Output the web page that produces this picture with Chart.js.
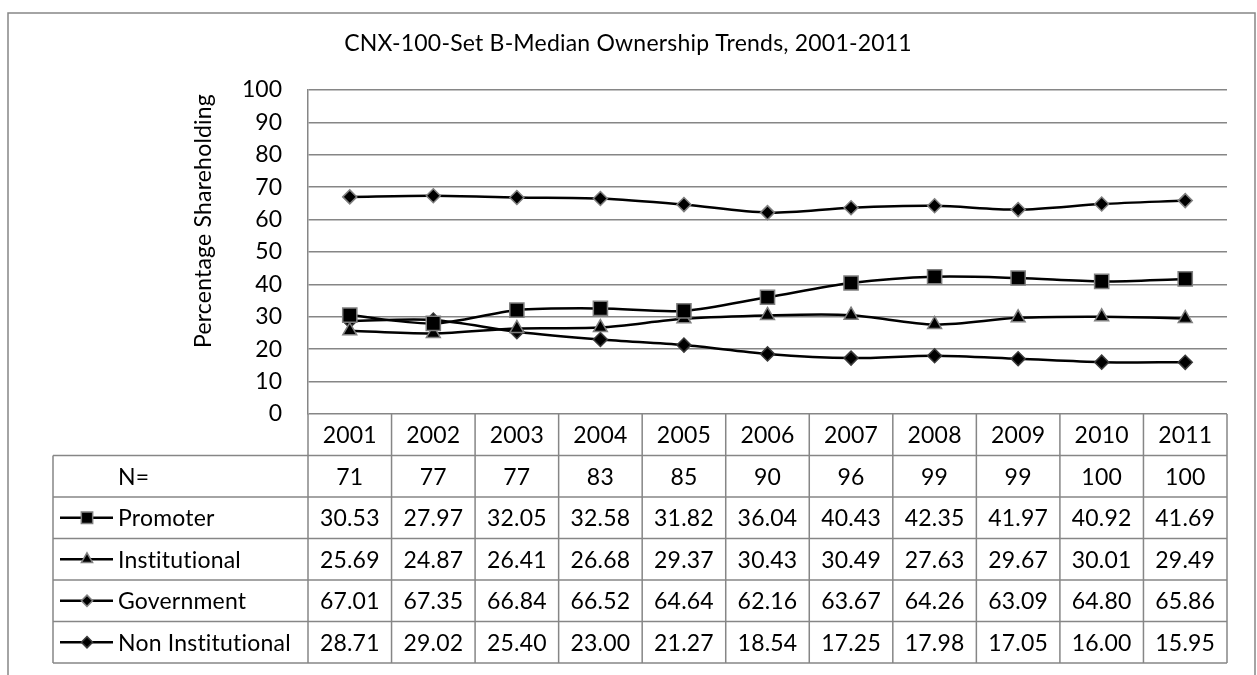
<!DOCTYPE html>
<html>
<head>
<meta charset="utf-8">
<script src="https://cdn.jsdelivr.net/npm/chart.js@4.4.1/dist/chart.umd.min.js"></script>
<style>
	html, body { margin: 0; padding: 0; background: #fff; }
	#wrap { width: 1257px; height: 675px; }
</style>
</head>
<body>
<div id="wrap"><canvas id="ownChart" width="1257" height="675"></canvas></div>
<script>
const years = ['2001', '2002', '2003', '2004', '2005', '2006', '2007', '2008', '2009', '2010', '2011'];
const counts = [71, 77, 77, 83, 85, 90, 96, 99, 99, 100, 100];
const promoter = [30.53, 27.97, 32.05, 32.58, 31.82, 36.04, 40.43, 42.35, 41.97, 40.92, 41.69];
const institutional = [25.69, 24.87, 26.41, 26.68, 29.37, 30.43, 30.49, 27.63, 29.67, 30.01, 29.49];
const government = [67.01, 67.35, 66.84, 66.52, 64.64, 62.16, 63.67, 64.26, 63.09, 64.80, 65.86];
const nonInstitutional = [28.71, 29.02, 25.40, 23.00, 21.27, 18.54, 17.25, 17.98, 17.05, 16.00, 15.95];
const yTicks = [0, 10, 20, 30, 40, 50, 60, 70, 80, 90, 100];

const FONT = 'Lato';
const GRID = '#868686';

function series(label, data, style, radius, border) {
	return {
		label: label,
		data: data,
		borderColor: '#000',
		backgroundColor: '#000',
		borderWidth: 2.5,
		tension: 0.3,
		pointStyle: style,
		pointRadius: radius,
		pointHoverRadius: radius,
		pointBackgroundColor: '#000',
		pointBorderColor: border,
		pointBorderWidth: 1.5,
	};
}

function drawMarker(ctx, style, cx, cy, r) {
	ctx.beginPath();
	if (style === 'rect') {
		const s = r * Math.SQRT1_2;
		ctx.rect(cx - s, cy - s, 2 * s, 2 * s);
	} else if (style === 'triangle') {
		ctx.moveTo(cx, cy - r);
		ctx.lineTo(cx + r * 0.866, cy + r * 0.5);
		ctx.lineTo(cx - r * 0.866, cy + r * 0.5);
		ctx.closePath();
	} else {
		ctx.moveTo(cx, cy - r);
		ctx.lineTo(cx + r, cy);
		ctx.lineTo(cx, cy + r);
		ctx.lineTo(cx - r, cy);
		ctx.closePath();
	}
	ctx.fill();
	ctx.stroke();
}

const tablePlugin = {
	id: 'dataTable',
	afterDraw(chart) {
		const ctx = chart.ctx;
		const area = chart.chartArea;
		const x = chart.scales.x;
		const half = (x.getPixelForValue(1) - x.getPixelForValue(0)) / 2;
		const rowH = 41.5;
		const tableLeft = 53;
		const top = area.bottom;

		ctx.save();
		ctx.letterSpacing = '0.2px';
		// outer frame
		ctx.strokeStyle = GRID;
		ctx.lineWidth = 1.5;
		ctx.strokeRect(8, 13, 1247, 700);

		// title
		ctx.fillStyle = '#000';
		ctx.font = '23px ' + FONT;
		ctx.textAlign = 'center';
		ctx.textBaseline = 'middle';
		ctx.fillText('CNX-100-Set B-Median Ownership Trends, 2001-2011', 628, 44);

		// y axis title
		ctx.save();
		ctx.translate(204, 221);
		ctx.rotate(-Math.PI / 2);
		ctx.fillText('Percentage Shareholding', 0, 0);
		ctx.restore();

		// table lines
		ctx.strokeStyle = GRID;
		ctx.lineWidth = 1.5;
		ctx.beginPath();
		for (let r = 1; r <= 6; r++) {
			ctx.moveTo(tableLeft, top + r * rowH);
			ctx.lineTo(area.right, top + r * rowH);
		}
		ctx.moveTo(tableLeft, top + rowH);
		ctx.lineTo(tableLeft, top + 6 * rowH);
		for (let i = 0; i <= years.length; i++) {
			const px = x.getPixelForValue(0) - half + i * 2 * half;
			ctx.moveTo(px, top);
			ctx.lineTo(px, top + 6 * rowH);
		}
		ctx.stroke();

		// year row
		ctx.fillStyle = '#000';
		ctx.font = '23px ' + FONT;
		ctx.textAlign = 'center';
		years.forEach((yr, i) => ctx.fillText(yr, x.getPixelForValue(i), top + rowH / 2 + 1));

		// data rows
		const rows = [{ label: 'N=', values: counts.map(String) }];
		chart.data.datasets.forEach((ds) => {
			rows.push({ label: ds.label, values: ds.data.map((v) => v.toFixed(2)), ds: ds });
		});
		rows.forEach((row, r) => {
			const cy = top + (r + 1.5) * rowH + 1;
			ctx.textAlign = 'left';
			ctx.fillStyle = '#000';
			ctx.fillText(row.label, 118, cy);
			ctx.textAlign = 'center';
			row.values.forEach((v, i) => ctx.fillText(v, x.getPixelForValue(i), cy));
			if (row.ds) {
				ctx.strokeStyle = '#000';
				ctx.lineWidth = 2.5;
				ctx.beginPath();
				ctx.moveTo(60, cy - 1);
				ctx.lineTo(113, cy - 1);
				ctx.stroke();
				ctx.fillStyle = '#000';
				ctx.strokeStyle = row.ds.pointBorderColor;
				ctx.lineWidth = 1.5;
				drawMarker(ctx, row.ds.pointStyle, 87, cy - 1, row.ds.pointRadius * 0.8);
			}
		});
		ctx.restore();
	},
};

const ctx = document.getElementById('ownChart').getContext('2d');
const ownChart = new Chart(ctx, {
	type: 'line',
	data: {
		labels: years,
		datasets: [
			series('Promoter', promoter, 'rect', 10, '#7f7f7f'),
			series('Institutional', institutional, 'triangle', 8, '#7f7f7f'),
			series('Government', government, 'rectRot', 7, '#7f7f7f'),
			series('Non Institutional', nonInstitutional, 'rectRot', 7, '#3a3a3a'),
		],
	},
	options: {
		responsive: false,
		animation: false,
		layout: {
			padding: { left: 0, right: 30, top: 90, bottom: 261 },
		},
		plugins: {
			legend: { display: false },
			tooltip: { enabled: false },
		},
		scales: {
			x: {
				display: false,
				offset: true,
			},
			y: {
				min: 0,
				max: 100,
				afterFit(scale) {
					scale.width = 308;
				},
				afterBuildTicks(scale) {
					scale.ticks = yTicks.map((v) => ({ value: v }));
				},
				ticks: {
					color: '#000',
					font: { family: FONT, size: 23 },
					padding: 26,
				},
				grid: {
					color: GRID,
					lineWidth: 1.5,
					drawTicks: false,
				},
				border: {
					color: GRID,
					width: 1.5,
				},
			},
		},
	},
	plugins: [tablePlugin],
});
</script>
</body>
</html>
